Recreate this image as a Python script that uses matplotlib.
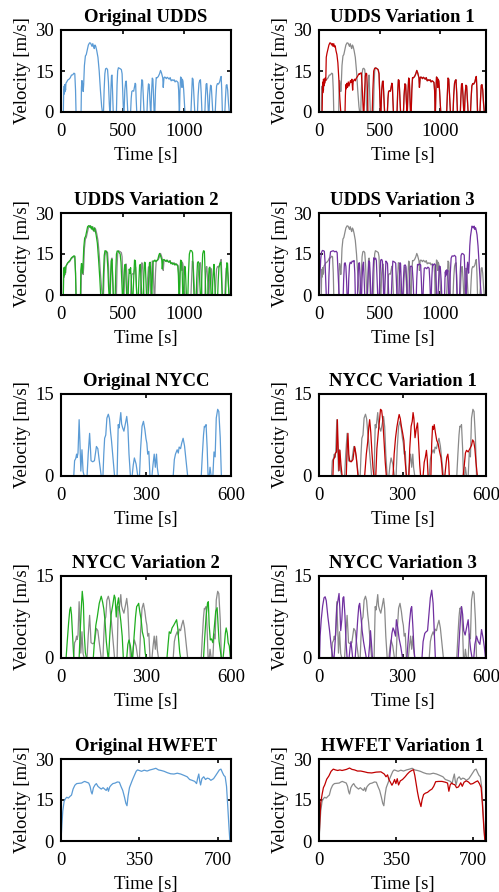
import numpy as np
import matplotlib
matplotlib.use("Agg")
from matplotlib import pyplot as plt

plt.rcParams['font.family'] = ['Liberation Serif', 'DejaVu Serif']
plt.rcParams['font.size'] = 13.5

# ---------------- data (time [s], velocity [m/s]) ----------------
udds_orig = np.array([
    (0, 0), (19, 0), (22, 8), (24, 6.5), (26, 9.5), (28, 7), (30, 10), (32, 7.5), (34, 9.8), (37, 8), (40, 10.5),
    (47, 11), (55, 11.7), (65, 12), (75, 12.5), (85, 13.5), (95, 13.6), (105, 14.2), (112, 14), (118, 8), (122, 0),
    (163, 0), (166, 9), (170, 11.5), (176, 10), (180, 7.5), (184, 10), (190, 17), (198, 20.5), (205, 21), (212, 22.5),
    (222, 24.5), (232, 25.3), (240, 25.2), (246, 24.6), (252, 24), (258, 25), (264, 24), (270, 23.2), (276, 24.5),
    (282, 24), (290, 22.5), (300, 20), (310, 15), (320, 8), (330, 2), (336, 0),
    (345, 0), (350, 8), (356, 14), (362, 15.8), (370, 16), (378, 15.5), (385, 11), (392, 3), (396, 0),
    (400, 0), (405, 8), (410, 13.3), (414, 13.5), (420, 6), (424, 0),
    (450, 0), (455, 10), (460, 15), (466, 16.2), (474, 16), (482, 15.8), (490, 15.5), (496, 14), (502, 6), (507, 0),
    (512, 0), (518, 8), (525, 11.2), (530, 11.3), (536, 6), (542, 0),
    (565, 0), (570, 5), (575, 7.5), (582, 7.8), (590, 7.6), (596, 9), (602, 10.5), (606, 10.2), (610, 5), (615, 0),
    (645, 0), (650, 7), (656, 11.8), (662, 11.5), (668, 6), (674, 0),
    (698, 0), (703, 6), (710, 10.3), (716, 10), (722, 4), (727, 0),
    (730, 0), (735, 7), (741, 12.4), (746, 12), (752, 5), (756, 0),
    (762, 0), (767, 8), (773, 12.6), (780, 12.5), (790, 13), (800, 14), (808, 15.2), (815, 14.4), (820, 13.5),
    (826, 12.5), (830, 9), (836, 12.5), (842, 12.8), (848, 12.6), (855, 12.2), (862, 12.7), (870, 12.4), (878, 12),
    (886, 12.6), (894, 11.4), (902, 11.8), (910, 11.5), (918, 11.8), (926, 11), (934, 11.4), (942, 11.2), (950, 10.8),
    (955, 8), (958, 3), (960, 0),
    (962, 0), (966, 8), (971, 12.8), (976, 12.5), (982, 9), (985, 12), (990, 11.3), (996, 8), (1002, 3), (1006, 0),
    (1055, 0), (1060, 6), (1066, 12.4), (1072, 12), (1080, 5), (1086, 0),
    (1108, 0), (1113, 6), (1120, 10.5), (1126, 11.5), (1132, 11.8), (1138, 7), (1144, 0),
    (1168, 0), (1172, 5), (1178, 10.2), (1184, 10.4), (1190, 6), (1196, 0),
    (1202, 0), (1207, 6), (1214, 9.8), (1220, 9.5), (1226, 5), (1232, 0),
    (1252, 0), (1257, 5), (1263, 9.5), (1270, 10.4), (1278, 10.2), (1288, 11), (1296, 12.6), (1300, 13), (1305, 8),
    (1310, 0),
    (1330, 0), (1335, 5), (1341, 9.8), (1347, 10), (1353, 8), (1360, 3), (1366, 0), (1370, 0)])

udds_var1_head = np.array([
    (0, 0), (26, 0), (29, 9), (31, 7), (33, 11), (35, 8), (37, 12), (40, 9.5), (43, 12), (47, 10.5), (52, 12.5),
    (56, 11.5), (60, 20), (66, 21.5), (74, 23), (82, 24.5), (90, 25.3), (97, 25.2), (104, 24.5), (110, 25),
    (116, 24), (122, 25), (128, 23.8), (134, 24.2), (140, 22.5), (148, 21), (156, 18), (164, 12), (172, 5), (180, 0),
    (215, 0), (218, 6), (222, 10), (226, 8.5), (230, 10.5), (236, 9), (242, 11), (248, 9.5), (254, 10.5),
    (260, 11.5), (266, 10.8), (272, 12), (278, 8), (282, 11), (288, 11.6), (294, 12), (300, 11.4), (306, 12.2),
    (312, 12.6), (318, 13), (324, 13.5), (330, 14), (336, 13.8), (342, 14.2), (350, 14.3), (356, 10), (362, 4),
    (366, 0),
    (372, 0), (376, 7), (382, 13), (388, 14.2), (394, 14), (400, 8), (404, 0),
    (440, 0), (445, 8), (452, 15), (460, 16), (470, 16.1), (480, 15.8), (488, 15.5), (496, 14), (502, 6), (507, 0)])
# after 507 s variation 1 follows the original cycle
udds_var1 = np.vstack([udds_var1_head, udds_orig[udds_orig[:, 0] > 507]])

udds_var2 = np.array([
    (0, 0), (19, 0), (21, 9), (23, 7), (25, 10), (27, 7.5), (29, 10.2), (31, 8), (33, 10), (36, 8.5), (40, 10.5),
    (47, 11.2), (55, 11.8), (65, 12.3), (75, 12.8), (85, 13.6), (95, 14), (105, 14.3), (112, 14.2), (118, 8),
    (122, 0),
    (158, 0), (161, 9), (166, 11.5), (171, 10), (175, 8), (179, 11), (185, 17.5), (192, 20.8), (200, 21.5),
    (207, 23), (216, 25), (226, 25.4), (234, 24.8), (240, 25.3), (246, 24.2), (252, 25), (258, 24), (264, 23.5),
    (270, 24.6), (277, 23.8), (285, 22), (295, 19), (305, 13), (315, 6), (322, 0),
    (340, 0), (345, 8), (351, 14.5), (357, 16.2), (365, 16.1), (372, 15.6), (380, 10), (386, 3), (390, 0),
    (398, 0), (403, 7), (408, 12.5), (414, 13), (420, 6), (425, 0),
    (440, 0), (445, 9), (450, 15), (456, 16.1), (465, 16), (472, 15.5), (480, 15), (487, 12), (493, 5), (498, 0),
    (505, 0), (510, 6), (517, 11), (523, 11.2), (528, 6), (533, 0),
    (545, 0), (549, 5), (554, 9.5), (560, 8), (565, 10), (570, 6), (575, 0),
    (585, 0), (590, 6), (597, 12.8), (604, 12.5), (610, 6), (615, 0),
    (628, 0), (632, 5), (638, 10.8), (644, 11.2), (650, 5), (655, 0),
    (668, 0), (672, 6), (678, 12), (684, 11.8), (690, 5), (694, 0),
    (708, 0), (712, 6), (718, 11.8), (724, 12), (730, 5), (735, 0),
    (738, 0), (742, 7), (748, 12.5), (755, 12.3), (762, 12.8), (770, 12.2), (778, 12.6), (786, 13), (794, 14.5),
    (800, 15.2), (806, 14.6), (812, 13.8), (818, 12.8), (822, 9.5), (828, 12.8), (836, 13), (844, 12.6),
    (852, 12.3), (860, 12.8), (868, 12.2), (876, 12), (884, 12.5), (892, 11.5), (900, 11.8), (908, 11.2),
    (916, 11.6), (924, 11), (932, 11.4), (940, 11), (948, 10.6), (953, 7), (957, 0),
    (962, 0), (966, 7), (971, 12.6), (978, 12.5), (984, 8), (988, 0),
    (995, 0), (999, 6), (1004, 10.5), (1009, 10), (1014, 4), (1018, 0),
    (1030, 0), (1035, 8), (1042, 15), (1050, 16.3), (1060, 16.2), (1068, 15.5), (1074, 8), (1079, 0),
    (1098, 0), (1102, 6), (1108, 11.8), (1114, 12.2), (1120, 11.6), (1126, 5), (1131, 0),
    (1140, 0), (1144, 8), (1150, 15), (1157, 16.2), (1164, 16), (1170, 8), (1175, 0),
    (1192, 0), (1196, 5), (1202, 9.8), (1208, 10.2), (1214, 5), (1218, 0),
    (1228, 0), (1232, 5), (1237, 9), (1242, 11.2), (1247, 6), (1252, 0),
    (1272, 0), (1276, 5), (1282, 10), (1290, 11.5), (1298, 12), (1303, 6), (1308, 0),
    (1336, 0), (1340, 6), (1346, 11.8), (1352, 11.5), (1358, 5), (1363, 0), (1370, 0)])

udds_var3 = np.array([
    (0, 0), (3, 0), (8, 7), (14, 13), (20, 15.5), (28, 16.3), (36, 16.2), (44, 16), (50, 12), (56, 5), (60, 0),
    (78, 0), (82, 7), (88, 13), (95, 15.8), (105, 16), (118, 16.2), (130, 15.8), (142, 16), (150, 15.5), (156, 10),
    (162, 4), (166, 0),
    (200, 0), (204, 6), (210, 11.5), (216, 11.8), (222, 10.5), (228, 5), (232, 0),
    (242, 0), (246, 6), (252, 11), (258, 12), (266, 11.5), (274, 12.4), (282, 12.2), (290, 12.6), (296, 8), (300, 0),
    (318, 0), (322, 6), (328, 11.6), (334, 11.8), (340, 6), (344, 0),
    (352, 0), (356, 6), (362, 11), (368, 12), (374, 5), (378, 0),
    (400, 0), (406, 7), (412, 12.5), (418, 12), (424, 6), (428, 0),
    (440, 0), (446, 8), (452, 13.6), (460, 13), (468, 13.5), (474, 12.6), (480, 6), (485, 0),
    (498, 0), (503, 7), (510, 12.8), (518, 13), (524, 12.4), (530, 6), (534, 0),
    (542, 0), (547, 6), (553, 12.4), (560, 12), (566, 11.5), (572, 5), (576, 0),
    (598, 0), (603, 6), (610, 12.4), (618, 12.2), (626, 12), (634, 11.6), (640, 5), (644, 0),
    (660, 0), (664, 6), (669, 11.8), (674, 11.5), (680, 5), (684, 0),
    (694, 0), (698, 6), (704, 10.8), (712, 11), (718, 10.5), (724, 5), (728, 0),
    (744, 0), (748, 5), (754, 10.4), (762, 10.6), (770, 10.2), (778, 5), (782, 0),
    (804, 0), (808, 6), (814, 11.2), (822, 11), (830, 11.4), (840, 11), (846, 5), (850, 0),
    (860, 0), (864, 5), (870, 9.8), (880, 10), (890, 9.6), (900, 10.2), (910, 9.8), (916, 5), (920, 0),
    (928, 0), (932, 6), (938, 11.2), (946, 11), (954, 11.4), (962, 11), (968, 5), (972, 0),
    (984, 0), (988, 5), (994, 10.6), (1002, 10.4), (1010, 5), (1014, 0),
    (1038, 0), (1041, 6), (1044, 8.5), (1047, 7), (1050, 9), (1053, 7.5), (1056, 9.2), (1060, 8), (1064, 9),
    (1068, 5), (1071, 0),
    (1080, 0), (1085, 8), (1092, 13.5), (1100, 14.3), (1110, 14.2), (1120, 14.5), (1130, 14), (1136, 7), (1140, 0),
    (1162, 0), (1167, 8), (1174, 14.5), (1182, 15.2), (1192, 15), (1200, 14.6), (1206, 7), (1212, 0),
    (1218, 0), (1222, 9), (1228, 12), (1232, 10), (1236, 8), (1240, 11), (1246, 18), (1252, 21.5), (1258, 23.5),
    (1264, 25.2), (1270, 25), (1276, 24.5), (1282, 25.2), (1288, 24), (1294, 24.6), (1300, 23.5), (1306, 22),
    (1314, 18), (1322, 12), (1332, 5), (1340, 0), (1370, 0)])

nycc_orig = np.array([
    (0, 0), (45, 0), (48, 2.8), (52, 3.2), (55, 4), (57, 3.4), (60, 4.2), (64, 10.3), (67, 5.9), (70, 0.9),
    (74, 4.8), (78, 0.8), (82, 0),
    (92, 0), (96, 4), (101, 7.8), (104, 5), (106, 2.8), (112, 2.6), (118, 2.8), (125, 5.4), (130, 5), (135, 2.8),
    (142, 0),
    (148, 0), (151, 4), (154, 6.9), (158, 7.5), (162, 10.6), (167, 11.3), (171, 10.5), (175, 8), (178, 6.6),
    (184, 3), (189, 0),
    (198, 0), (200, 5), (202, 9.4), (205, 8.8), (211, 11.6), (214, 9.5), (218, 8.75), (222, 8.2), (227, 9.5),
    (232, 10.9), (236, 9), (240, 4), (245, 0),
    (251, 0), (255, 2), (259, 3.3), (265, 2.2), (271, 0),
    (277, 0), (281, 5), (286, 9.1), (291, 10), (296, 8.5), (300, 6.8), (303, 6), (306, 4), (310, 4.5), (314, 0),
    (321, 0), (325, 2.2), (329, 4), (333, 1.6), (337, 4), (340, 1.5), (344, 0),
    (396, 0), (400, 3), (404, 4), (410, 4.8), (414, 4.2), (417, 5.3), (422, 5), (426, 6), (431, 6.9), (436, 5.5),
    (441, 3), (447, 0),
    (495, 0), (499, 4), (503, 7.5), (506, 9.1), (509, 9), (512, 9.4), (516, 5), (519, 0),
    (523, 0), (526, 1.6), (530, 0),
    (536, 0), (540, 4.4), (544, 3.5), (548, 10.6), (553, 12.2), (557, 11.8), (562, 7), (566, 0), (598, 0)])

nycc_var1 = np.array([
    (0, 0), (50, 0), (52, 3), (56, 3.4), (59, 4.2), (63, 4.4), (66, 10.3), (69, 5), (72, 1), (75, 4.7), (79, 2),
    (83, 0),
    (98, 0), (101, 5), (104, 7.8), (107, 4), (110, 2.8), (116, 2.6), (122, 3), (128, 5.4), (134, 3.5), (140, 0),
    (164, 0), (170, 4), (175, 6.25), (179, 9), (182, 10.3), (186, 8), (190, 4.5), (194, 1.5), (197, 0),
    (204, 0), (208, 5), (214, 8.5), (218, 10.5), (221, 12.2), (225, 12), (229, 10.3), (233, 7), (238, 2.5), (242, 0),
    (266, 0), (270, 4), (275, 7), (280, 9), (285, 10.5), (288, 11.25), (292, 10.5), (296, 9.1), (300, 8),
    (305, 6.5), (309, 3), (314, 0),
    (323, 0), (326, 5), (331, 9.1), (335, 10), (338, 11.6), (341, 10.5), (345, 7), (349, 8.5), (354, 9.7),
    (358, 6), (362, 2), (365, 0),
    (374, 0), (378, 2.5), (382, 3.4), (386, 4.7), (389, 3), (392, 0),
    (402, 0), (405, 6), (408, 9.1), (411, 8.5), (414, 9.4), (418, 8), (423, 6.5), (428, 5.9), (433, 4.5),
    (438, 3.4), (441, 2), (444, 0),
    (452, 0), (456, 2), (459, 3.4), (463, 4), (466, 2.5), (468, 0),
    (518, 0), (522, 2), (526, 4.2), (530, 4.7), (536, 4.4), (542, 5), (548, 5.6), (552, 6.6), (556, 6.3),
    (560, 5), (564, 2.5), (569, 0), (598, 0)])

nycc_var2 = np.array([
    (0, 0), (18, 0), (22, 3), (27, 6.5), (31, 8.8), (34, 9.3), (37, 8), (41, 4), (45, 0),
    (64, 0), (67, 4), (71, 8.5), (75, 12.2), (79, 10), (82, 4.5), (86, 1), (90, 0),
    (114, 0), (118, 3), (123, 6), (128, 7.5), (135, 10), (142, 11.3), (147, 10.2), (151, 9), (155, 7), (160, 3),
    (166, 0),
    (168, 0), (172, 4), (177, 8), (182, 9.5), (188, 11.5), (191, 11), (195, 7.5), (198, 9.5), (203, 11),
    (207, 8.5), (211, 6.8), (216, 4), (220, 0),
    (232, 0), (236, 2.5), (240, 3.3), (245, 2.2), (250, 0),
    (253, 0), (258, 4), (263, 7.5), (267, 9.4), (271, 9.7), (274, 10), (278, 8.5), (283, 7), (287, 4.8),
    (293, 3.5), (297, 1), (300, 0),
    (374, 0), (378, 2.5), (382, 4.8), (387, 4.5), (392, 5.5), (398, 6), (404, 6.6), (408, 7), (412, 5.5),
    (415, 3.5), (419, 1), (422, 0),
    (503, 0), (507, 3.5), (512, 7.5), (517, 10), (520, 10.3), (523, 6), (527, 3.3), (531, 3.5), (536, 2.8),
    (540, 5), (546, 8.5), (551, 9.2), (555, 5.5), (558, 3), (562, 1.5), (566, 0),
    (572, 0), (576, 2), (580, 4.5), (583, 5.5), (587, 4.5), (590, 2.8), (594, 2.2), (598, 0)])

nycc_var3 = np.array([
    (0, 0), (2, 0), (4, 4), (8, 7), (13, 9.5), (18, 11), (22, 11.2), (26, 10.5), (32, 7.5), (38, 5), (44, 2),
    (50, 0),
    (54, 0), (58, 3), (61, 6), (64, 9.4), (68, 10.5), (72, 11.8), (75, 9), (78, 5), (82, 7), (86, 11), (89, 11.2),
    (93, 8), (97, 3), (101, 0),
    (108, 0), (112, 2), (115, 3), (118, 1.5), (121, 0),
    (130, 0), (134, 3), (139, 7), (143, 9.5), (146, 10), (150, 8), (155, 5), (160, 3), (165, 1.5), (170, 0),
    (178, 0), (182, 2.5), (185, 5), (188, 3), (192, 0),
    (254, 0), (258, 2.5), (262, 4.5), (266, 5.5), (270, 5), (275, 4), (278, 7), (283, 5.5), (288, 3.5), (294, 2),
    (300, 0),
    (316, 0), (320, 3), (325, 6.5), (330, 9), (333, 9.4), (337, 6), (341, 2), (344, 0),
    (370, 0), (374, 3), (380, 4.5), (385, 4.8), (390, 5), (395, 8), (400, 11), (405, 12.4), (410, 10), (414, 5),
    (418, 0),
    (500, 0), (504, 3.5), (508, 7), (512, 9.4), (516, 8), (520, 5), (525, 4.2), (530, 5.5), (536, 7), (540, 4),
    (545, 1.5), (550, 0),
    (556, 0), (560, 2.5), (566, 4), (572, 3), (578, 2.5), (584, 5.2), (590, 3.5), (594, 2), (598, 0)])

hwfet_orig = np.array([
    (0, 0), (4, 6), (8, 11), (14, 14.5), (20, 15.5), (26, 16), (33, 15.7), (40, 16.3), (47, 16.8), (54, 19),
    (62, 20.4), (70, 21), (80, 21.1), (92, 21.2), (100, 21.6), (106, 21.8), (115, 21.5), (124, 21.2), (130, 20),
    (135, 18), (139, 17.2), (145, 19.5), (152, 20.5), (158, 21), (165, 20), (172, 19.5), (180, 19), (188, 19.5),
    (195, 19), (202, 18.5), (208, 19.5), (212, 18.2), (218, 19.8), (225, 20.5), (232, 21), (242, 21.2), (252, 21.6),
    (261, 21.5), (268, 20), (276, 18.5), (284, 16), (290, 13.8), (295, 12.9), (300, 16.5), (306, 19.5), (312, 20.8),
    (320, 22.5), (328, 24), (336, 25.5), (342, 26), (350, 25.8), (360, 25.5), (372, 25.9), (385, 25.6), (398, 26),
    (412, 26.3), (424, 26.6), (436, 26), (448, 25.8), (461, 25.5), (475, 25), (490, 24.6), (505, 24.5), (520, 24.8),
    (535, 24.5), (550, 24), (564, 23.5), (575, 22.5), (586, 22.2), (598, 21.8), (606, 21), (611, 23), (616, 24.5),
    (620, 22), (624, 20.5), (630, 22.8), (638, 23.5), (646, 22.5), (654, 23), (662, 22.8), (670, 22.2), (682, 22.8),
    (692, 24), (700, 25), (708, 26), (715, 26.3), (722, 25), (728, 24), (734, 23.5), (740, 20), (746, 12),
    (751, 5), (755, 0)])

hwfet_var1 = np.array([
    (0, 0), (4, 8), (8, 14), (14, 17), (20, 19.5), (26, 20.5), (35, 22.6), (45, 23.8), (55, 25.5), (65, 26.3),
    (75, 26), (85, 25.8), (95, 26), (105, 25.8), (115, 26), (125, 26.2), (139, 26.7), (150, 26.2), (162, 26),
    (175, 25.6), (190, 25.6), (207, 25.3), (222, 25), (240, 24.9), (260, 25.2), (282, 25.3), (297, 24.5),
    (305, 23.5), (312, 24.2), (318, 22.5), (325, 21.5), (332, 20.4), (338, 21.3), (344, 22.5), (350, 21),
    (356, 22.8), (362, 20.5), (370, 22), (380, 22.5), (392, 23.5), (402, 24.5), (412, 25.3), (422, 25.8),
    (430, 26.1), (436, 24), (442, 21), (448, 18), (454, 15.5), (459, 14), (464, 12.6), (469, 15), (476, 17),
    (484, 17.5), (494, 17.8), (504, 18.5), (514, 19), (522, 20), (531, 21.7), (545, 21.8), (560, 21.8), (575, 21.5),
    (585, 21.2), (591, 18.2), (597, 20.5), (603, 21.2), (610, 20.8), (618, 20.6), (626, 19.5), (635, 19.8),
    (645, 21.3), (652, 20), (660, 21.5), (670, 22), (680, 21.6), (690, 20.8), (700, 21), (712, 21.6), (722, 22),
    (730, 21), (738, 19.5), (744, 13), (750, 5), (755, 0)])

# ---------------- panel setup ----------------
titles = ["Original UDDS", "UDDS Variation 1", "UDDS Variation 2", "UDDS Variation 3",
          "Original NYCC", "NYCC Variation 1", "NYCC Variation 2", "NYCC Variation 3",
          "Original HWFET", "HWFET Variation 1"]
series = [udds_orig, udds_var1, udds_var2, udds_var3,
          nycc_orig, nycc_var1, nycc_var2, nycc_var3,
          hwfet_orig, hwfet_var1]
references = [None, udds_orig, udds_orig, udds_orig,
              None, nycc_orig, nycc_orig, nycc_orig,
              None, hwfet_orig]
line_colors = ['#5b9bd5', '#c00000', '#1fae1f', '#7030a0',
               '#5b9bd5', '#c00000', '#1fae1f', '#7030a0',
               '#5b9bd5', '#c00000']
x_limits = [1380] * 4 + [600] * 4 + [760] * 2
x_ticks = [[0, 500, 1000]] * 4 + [[0, 300, 600]] * 4 + [[0, 350, 700]] * 2
y_limits = [30] * 4 + [15] * 4 + [30] * 2
y_ticks = [[0, 15, 30]] * 4 + [[0, 15]] * 4 + [[0, 15, 30]] * 2

W, H = 499, 892
fig = plt.figure(figsize=(W / 100, H / 100), dpi=100)

col_left = [61, 319]
col_width = [170, 167]
row_top = [30, 213, 394, 576, 759]
ax_h = 82

for i in range(10):
    r, c = divmod(i, 2)
    ax = fig.add_axes([col_left[c] / W, 1 - (row_top[r] + ax_h) / H, col_width[c] / W, ax_h / H])
    ref = references[i]
    if ref is not None:
        ax.plot(ref[:, 0], ref[:, 1], color='#8a8a8a', lw=0.9)
    d = series[i]
    ax.plot(d[:, 0], d[:, 1], color=line_colors[i], lw=0.9)
    ax.set_xlim(0, x_limits[i])
    ax.set_ylim(0, y_limits[i])
    ax.set_xticks(x_ticks[i])
    ax.set_yticks(y_ticks[i])
    ax.tick_params(direction='in', top=True, right=True, length=3, width=1.2, labelsize=13.5)
    ax.tick_params(axis='x', pad=8)
    ax.tick_params(axis='y', pad=5)
    for s in ax.spines.values():
        s.set_linewidth(1.5)
    ax.set_title(titles[i], fontweight='bold', fontsize=13.5, pad=6)
    ax.set_xlabel("Time [s]", fontsize=13.5, labelpad=5)
    ax.set_ylabel("Velocity [m/s]", fontsize=13.5, labelpad=3)

fig.savefig("out.png", dpi=100)
